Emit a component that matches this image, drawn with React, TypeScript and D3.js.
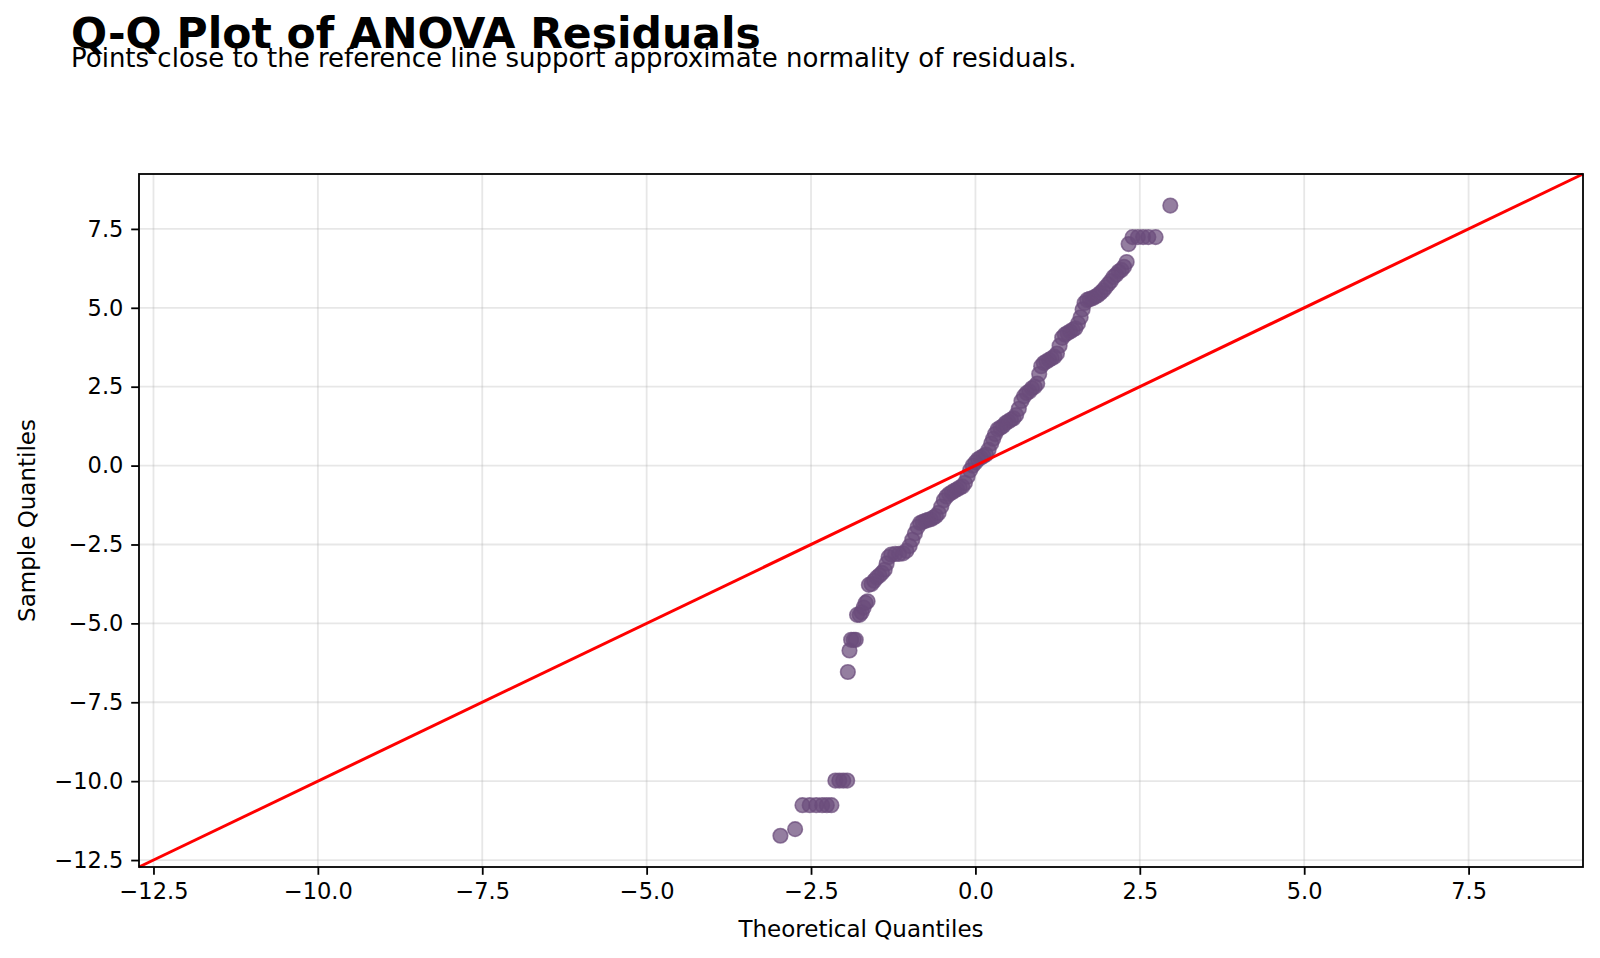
import { useRef, useEffect } from "react";
import * as d3 from "d3";

// Theoretical vs. sample quantiles of the ANOVA residuals
const theoretical: number[] = [
  -2.965, -2.742,
  -2.63, -2.52, -2.42, -2.33, -2.26, -2.19,
  -2.13, -2.07, -2.01, -1.95,
  -1.94, -1.915,
  -1.89, -1.85, -1.82,
  -1.8, -1.76, -1.73, -1.7, -1.67, -1.64,
  -1.62, -1.58, -1.54, -1.5, -1.46, -1.42, -1.38, -1.35, -1.32,
  -1.28, -1.22, -1.16, -1.1, -1.05, -1.0, -0.96, -0.92, -0.88, -0.84,
  -0.8, -0.76, -0.72, -0.68, -0.64, -0.6, -0.56, -0.52, -0.48, -0.44,
  -0.4, -0.36, -0.32, -0.28, -0.24, -0.2, -0.16, -0.12, -0.08, -0.04,
  0.0, 0.04, 0.08, 0.12, 0.16, 0.2, 0.24, 0.27, 0.3, 0.34,
  0.38, 0.42, 0.46, 0.5, 0.54, 0.58, 0.62, 0.66, 0.7, 0.74,
  0.78, 0.82, 0.86, 0.9, 0.94, 0.97, 1.0, 1.04, 1.08, 1.12,
  1.16, 1.2, 1.24, 1.28, 1.32, 1.36, 1.4, 1.44, 1.48, 1.52,
  1.56, 1.6, 1.63, 1.66, 1.7, 1.74, 1.78, 1.82, 1.86, 1.9,
  1.94, 1.98, 2.02, 2.06, 2.1, 2.14, 2.18, 2.22, 2.26, 2.3,
  2.33, 2.39, 2.47, 2.55, 2.63, 2.74,
  2.964,
];

const sample: number[] = [
  -11.73, -11.52,
  -10.76, -10.76, -10.76, -10.76, -10.76, -10.76,
  -9.98, -9.98, -9.98, -9.98,
  -6.54, -5.86,
  -5.52, -5.52, -5.52,
  -4.73, -4.73, -4.65, -4.5, -4.35, -4.3,
  -3.78, -3.75, -3.65, -3.55, -3.48, -3.4, -3.3, -3.1, -2.9,
  -2.82, -2.8, -2.8, -2.78, -2.7, -2.55, -2.35, -2.15, -1.95, -1.82,
  -1.78, -1.75, -1.72, -1.7, -1.65, -1.6, -1.5, -1.3, -1.1, -0.98,
  -0.9, -0.85, -0.8, -0.75, -0.7, -0.66, -0.55, -0.35, -0.15, 0.0,
  0.1, 0.2, 0.25, 0.3, 0.35, 0.5, 0.7, 0.85, 1.0, 1.15,
  1.2, 1.25, 1.35, 1.4, 1.45, 1.5, 1.6, 1.8, 2.05, 2.2,
  2.3, 2.35, 2.45, 2.5, 2.6, 2.9, 3.15, 3.25, 3.3, 3.35,
  3.4, 3.45, 3.55, 3.8, 4.05, 4.15, 4.2, 4.25, 4.3, 4.35,
  4.5, 4.7, 4.95, 5.15, 5.25, 5.28, 5.3, 5.35, 5.4, 5.47,
  5.55, 5.65, 5.75, 5.85, 5.98, 6.05, 6.15, 6.2, 6.3, 6.45,
  7.02, 7.24, 7.24, 7.24, 7.24, 7.24,
  8.24,
];

const tickValues: number[] = [-12.5, -10, -7.5, -5, -2.5, 0, 2.5, 5, 7.5];
const axisDomain: [number, number] = [-12.72, 9.24];

const TITLE = "Q-Q Plot of ANOVA Residuals";
const SUBTITLE = "Points close to the reference line support approximate normality of residuals.";

const WIDTH = 1600;
const HEIGHT = 958;
const FONT = "DejaVu Sans, sans-serif";
const POINT_COLOR = "#6b4c7c";

export default function App() {
  const svgRef = useRef<SVGSVGElement>(null);

  useEffect(() => {
    if (!svgRef.current) return;
    const svg = d3.select(svgRef.current);
    svg.selectAll("*").remove();

    const margin = { top: 174, right: 17, bottom: 91, left: 139 };
    const w = WIDTH - margin.left - margin.right;
    const h = HEIGHT - margin.top - margin.bottom;

    svg.append("rect").attr("width", WIDTH).attr("height", HEIGHT).attr("fill", "#fff");

    // Titles
    svg.append("text")
      .attr("x", 71).attr("y", 48)
      .attr("font-family", FONT).attr("font-weight", "bold")
      .attr("font-size", 42.5).attr("fill", "#000")
      .text(TITLE);
    svg.append("text")
      .attr("x", 71).attr("y", 67)
      .attr("font-family", FONT).attr("font-size", 26).attr("fill", "#000")
      .text(SUBTITLE);

    const g = svg.append("g").attr("transform", `translate(${margin.left},${margin.top})`);

    const x = d3.scaleLinear().domain(axisDomain).range([0, w]);
    const y = d3.scaleLinear().domain(axisDomain).range([h, 0]);
    const fmt = (v: d3.NumberValue) => d3.format(".1f")(+v).replace("-", "\u2212");

    // Grid
    g.append("g").selectAll("line")
      .data(tickValues).join("line")
      .attr("x1", (d) => x(d)).attr("x2", (d) => x(d))
      .attr("y1", 0).attr("y2", h)
      .attr("stroke", "#b0b0b0").attr("stroke-opacity", 0.3).attr("stroke-width", 1.8);
    g.append("g").selectAll("line")
      .data(tickValues).join("line")
      .attr("x1", 0).attr("x2", w)
      .attr("y1", (d) => y(d)).attr("y2", (d) => y(d))
      .attr("stroke", "#b0b0b0").attr("stroke-opacity", 0.3).attr("stroke-width", 1.8);

    // Points
    const pts = theoretical.map((t, i) => [t, sample[i]] as [number, number]);
    g.append("g").selectAll("circle")
      .data(pts).join("circle")
      .attr("cx", (d) => x(d[0]))
      .attr("cy", (d) => y(d[1]))
      .attr("r", 7.3)
      .attr("fill", POINT_COLOR).attr("fill-opacity", 0.72)
      .attr("stroke", POINT_COLOR).attr("stroke-opacity", 0.72).attr("stroke-width", 1.6);

    // 45 degree reference line
    g.append("line")
      .attr("x1", x(axisDomain[0])).attr("y1", y(axisDomain[0]))
      .attr("x2", x(axisDomain[1])).attr("y2", y(axisDomain[1]))
      .attr("stroke", "#ff0000").attr("stroke-width", 3);

    // Axes
    const xAxis = g.append("g")
      .attr("transform", `translate(0,${h})`)
      .call(d3.axisBottom(x).tickValues(tickValues).tickFormat(fmt).tickSize(7.8).tickPadding(7.8));
    const yAxis = g.append("g")
      .call(d3.axisLeft(y).tickValues(tickValues).tickFormat(fmt).tickSize(7.8).tickPadding(7.8));
    [xAxis, yAxis].forEach((ax) => {
      ax.select(".domain").remove();
      ax.selectAll(".tick line").attr("stroke", "#000").attr("stroke-width", 1.8);
      ax.selectAll("text")
        .attr("fill", "#000")
        .style("font-family", FONT)
        .style("font-size", "22.5px");
    });

    // Frame
    g.append("rect")
      .attr("width", w).attr("height", h)
      .attr("fill", "none").attr("stroke", "#000").attr("stroke-width", 1.8);

    // Axis labels
    g.append("text")
      .attr("x", w / 2).attr("y", h + 70)
      .attr("text-anchor", "middle")
      .attr("font-family", FONT).attr("font-size", 23).attr("fill", "#000")
      .text("Theoretical Quantiles");
    svg.append("text")
      .attr("transform", `translate(35,${margin.top + h / 2}) rotate(-90)`)
      .attr("text-anchor", "middle")
      .attr("font-family", FONT).attr("font-size", 23).attr("fill", "#000")
      .text("Sample Quantiles");
  }, []);

  return (
    <svg
      ref={svgRef}
      width={WIDTH}
      height={HEIGHT}
      style={{ position: "absolute", left: 0, top: 0, display: "block" }}
    />
  );
}
